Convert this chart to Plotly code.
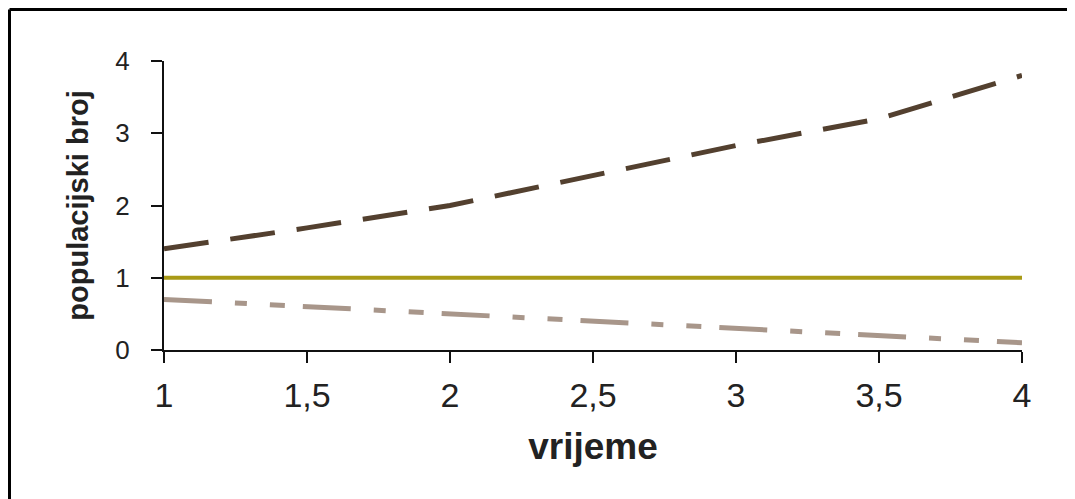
import plotly.graph_objects as go

# data
vrijeme = [1, 1.5, 2, 2.5, 3, 3.5, 4]
rast = [1.4, 1.69, 2.0, 2.42, 2.83, 3.2, 3.8]
konstantno = [1, 1, 1, 1, 1, 1, 1]
pad = [0.7, 0.6, 0.5, 0.4, 0.3, 0.2, 0.1]

x_ticks = [1, 1.5, 2, 2.5, 3, 3.5, 4]
x_tick_labels = ["1", "1,5", "2", "2,5", "3", "3,5", "4"]
y_ticks = [0, 1, 2, 3, 4]
y_tick_labels = ["0", "1", "2", "3", "4"]

# page is offset by the 8px body margin
W, H = 1067, 491
L, R, T, B = 156, 53, 53, 149
pw, ph = W - L - R, H - T - B

fig = go.Figure()
fig.add_trace(go.Scatter(x=vrijeme, y=konstantno, mode="lines",
                         line=dict(color="#a99a16", width=4), cliponaxis=False,
                         showlegend=False))
fig.add_trace(go.Scatter(x=vrijeme, y=pad, mode="lines",
                         line=dict(color="#a8968a", width=5,
                                   dash="48px,23px,12px,23px,15px,18px"),
                         cliponaxis=False, showlegend=False))
fig.add_trace(go.Scatter(x=vrijeme, y=rast, mode="lines",
                         line=dict(color="#53402f", width=5, dash="45px,22px"),
                         cliponaxis=False, showlegend=False))

# outer frame (top and left edges only visible)
def px_x(p):
    return (p - L) / pw

def px_y(p):
    return (H - B - p) / ph

fig.add_shape(type="line", xref="paper", yref="paper",
              x0=px_x(1.5), x1=px_x(1080), y0=px_y(1.5), y1=px_y(1.5),
              line=dict(color="black", width=3))
fig.add_shape(type="line", xref="paper", yref="paper",
              x0=px_x(1.5), x1=px_x(1.5), y0=px_y(1.5), y1=px_y(505),
              line=dict(color="black", width=3))

fig.update_layout(
    width=W, height=H,
    margin=dict(l=L, r=R, t=T, b=B, pad=0),
    paper_bgcolor="white", plot_bgcolor="white",
    font=dict(family="Liberation Sans, Arial, sans-serif", color="#222222", size=28),
    xaxis=dict(range=[1, 4], tickvals=x_ticks, ticktext=x_tick_labels,
               showgrid=False, zeroline=False, showline=True, linecolor="#111111",
               linewidth=2, ticks="outside", ticklen=11, tickwidth=2,
               tickcolor="#111111", tickfont=dict(size=34), ticklabelstandoff=3,
               title=dict(text="<b>vrijeme</b>", font=dict(size=37), standoff=20)),
    yaxis=dict(range=[0, 4], tickvals=y_ticks, ticktext=y_tick_labels,
               showgrid=False, zeroline=False, showline=True, linecolor="#111111",
               linewidth=2, ticks="outside", ticklen=11, tickwidth=2,
               tickcolor="#111111", tickfont=dict(size=26), ticklabelstandoff=16,
               title=dict(text="<b>populacijski broj</b>", font=dict(size=29), standoff=18)),
)

fig.write_html("out.html")
